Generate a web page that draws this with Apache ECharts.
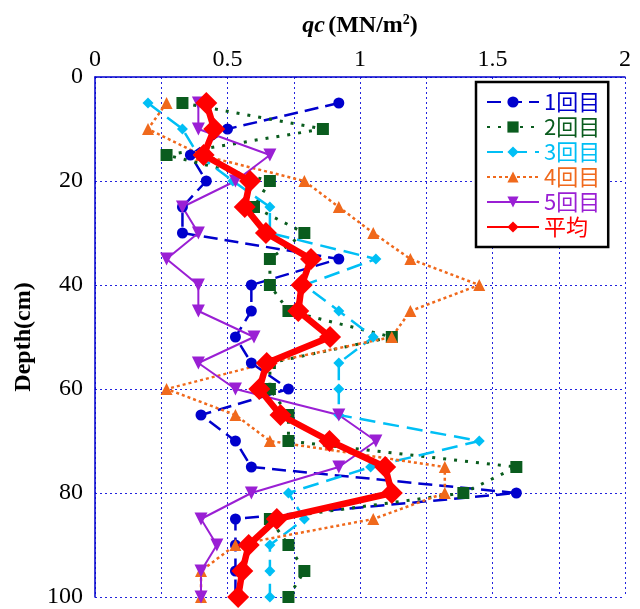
<!DOCTYPE html>
<html>
<head>
<meta charset="utf-8">
<script src="https://cdn.jsdelivr.net/npm/echarts@6/dist/echarts.min.js"></script>
<style>
  html, body { margin: 0; padding: 0; background: #fff; }
  #chart { width: 640px; height: 609px; }
</style>
</head>
<body>
<div id="chart"></div>
<script>
// depth of each reading (cm)
const depths = [5, 10, 15, 20, 25, 30, 35, 40, 45, 50, 55, 60, 65, 70, 75, 80, 85, 90, 95, 100];

// qc (MN/m2) per run
const run1 = [0.92, 0.50, 0.36, 0.42, 0.33, 0.33, 0.92, 0.59, 0.59, 0.53, 0.59, 0.73, 0.40, 0.53, 0.59, 1.59, 0.53, 0.53, 0.53, 0.53];
const run2 = [0.33, 0.86, 0.27, 0.66, 0.60, 0.79, 0.66, 0.66, 0.73, 1.12, 0.66, 0.66, 0.73, 0.73, 1.59, 1.39, 0.66, 0.73, 0.79, 0.73];
const run3 = [0.20, 0.33, 0.39, 0.52, 0.66, 0.66, 1.06, 0.79, 0.92, 1.05, 0.92, 0.92, 0.92, 1.45, 1.04, 0.73, 0.79, 0.66, 0.66, 0.66];
const run4 = [0.27, 0.20, 0.40, 0.79, 0.92, 1.05, 1.19, 1.45, 1.19, 1.12, 0.65, 0.27, 0.53, 0.66, 1.32, 1.32, 1.05, 0.53, 0.40, 0.40];
const run5 = [0.39, 0.39, 0.66, 0.53, 0.33, 0.39, 0.27, 0.39, 0.39, 0.60, 0.39, 0.53, 0.92, 1.06, 0.92, 0.59, 0.40, 0.46, 0.40, 0.40];
const average = [0.42, 0.45, 0.41, 0.585, 0.565, 0.645, 0.815, 0.78, 0.767, 0.887, 0.648, 0.62, 0.70, 0.885, 1.095, 1.12, 0.686, 0.58, 0.556, 0.54];

const names = ['1回目', '2回目', '3回目', '4回目', '5回目', '平均'];

const serif = '"Liberation Serif", "Times New Roman", serif';
const gridBlue = '#2222dd';

function pairs(vals) {
  return vals.map((v, i) => [v, depths[i]]);
}

function makeSeries(name, vals, color, symbol, size, width, dash) {
  return {
    name: name,
    type: 'line',
    data: pairs(vals),
    symbol: symbol,
    symbolSize: size,
    itemStyle: { color: color },
    lineStyle: { color: color, width: width, type: dash },
    z: 2
  };
}

const series = [
  makeSeries(names[0], run1, '#0000cc', 'circle', 11, 2.5, [14, 7]),
  makeSeries(names[1], run2, '#0a5c1e', 'rect', 12, 3, [3, 8]),
  makeSeries(names[2], run3, '#00bff5', 'diamond', 11, 2.5, [16, 8]),
  makeSeries(names[3], run4, '#f0691c', 'triangle', 12, 2.5, [3, 3]),
  makeSeries(names[4], run5, '#9a1fd4', 'path://M0,0 L10,0 L5,10 Z', 13, 2, 'solid'),
  makeSeries(names[5], average, '#ff0000', 'diamond', 22, 6.5, 'solid')
];
series[5].z = 5;

const chart = echarts.init(document.getElementById('chart'));
chart.setOption({
  animation: false,
  backgroundColor: '#fff',
  grid: { left: 95, top: 77, right: 15, bottom: 6, containLabel: false },
  xAxis: {
    type: 'value',
    position: 'top',
    min: 0,
    max: 2,
    interval: 0.5,
    name: '{i|qc} {b|(MN/m}{s|2}{b|)}',
    nameLocation: 'middle',
    nameGap: 38,
    nameTextStyle: {
      rich: {
        i: { fontFamily: serif, fontSize: 24, fontWeight: 'bold', fontStyle: 'italic', color: '#000' },
        b: { fontFamily: serif, fontSize: 24, fontWeight: 'bold', color: '#000' },
        s: { fontFamily: serif, fontSize: 14, fontWeight: 'bold', color: '#000', verticalAlign: 'top', padding: [0, 0, 12, 0] }
      }
    },
    axisLine: { show: true, lineStyle: { color: '#0000cc', width: 1.5 } },
    axisTick: { show: false },
    axisLabel: { fontFamily: serif, fontSize: 24, color: '#000', margin: 5 },
    splitLine: { show: true, lineStyle: { color: gridBlue, type: [2, 3], width: 1 } },
    minorTick: { show: false, splitNumber: 2 },
    minorSplitLine: { show: true, lineStyle: { color: gridBlue, type: [2, 3], width: 1 } }
  },
  yAxis: {
    type: 'value',
    inverse: true,
    min: 0,
    max: 100,
    interval: 20,
    name: 'Depth(cm)',
    nameLocation: 'middle',
    nameGap: 54,
    nameRotate: 90,
    nameTextStyle: { fontFamily: serif, fontSize: 24, fontWeight: 'bold', color: '#000' },
    axisLine: { show: true, lineStyle: { color: '#0000cc', width: 1.5 } },
    axisTick: { show: false },
    axisLabel: { fontFamily: serif, fontSize: 24, color: '#000', margin: 12 },
    splitLine: { show: true, lineStyle: { color: gridBlue, type: [2, 3], width: 1 } }
  },
  legend: {
    orient: 'vertical',
    left: 476,
    top: 82,
    width: 146,
    padding: [9, 8, 9, 10],
    itemWidth: 52,
    itemHeight: 14,
    itemGap: 3,
    backgroundColor: '#fff',
    borderColor: '#000',
    borderWidth: 2.5,
    textStyle: { fontFamily: '"Noto Sans CJK JP", sans-serif', fontSize: 22, lineHeight: 22 },
    data: names.map((n, i) => ({ name: n, textStyle: { color: series[i].itemStyle.color } }))
  },
  series: series
});
</script>
</body>
</html>
